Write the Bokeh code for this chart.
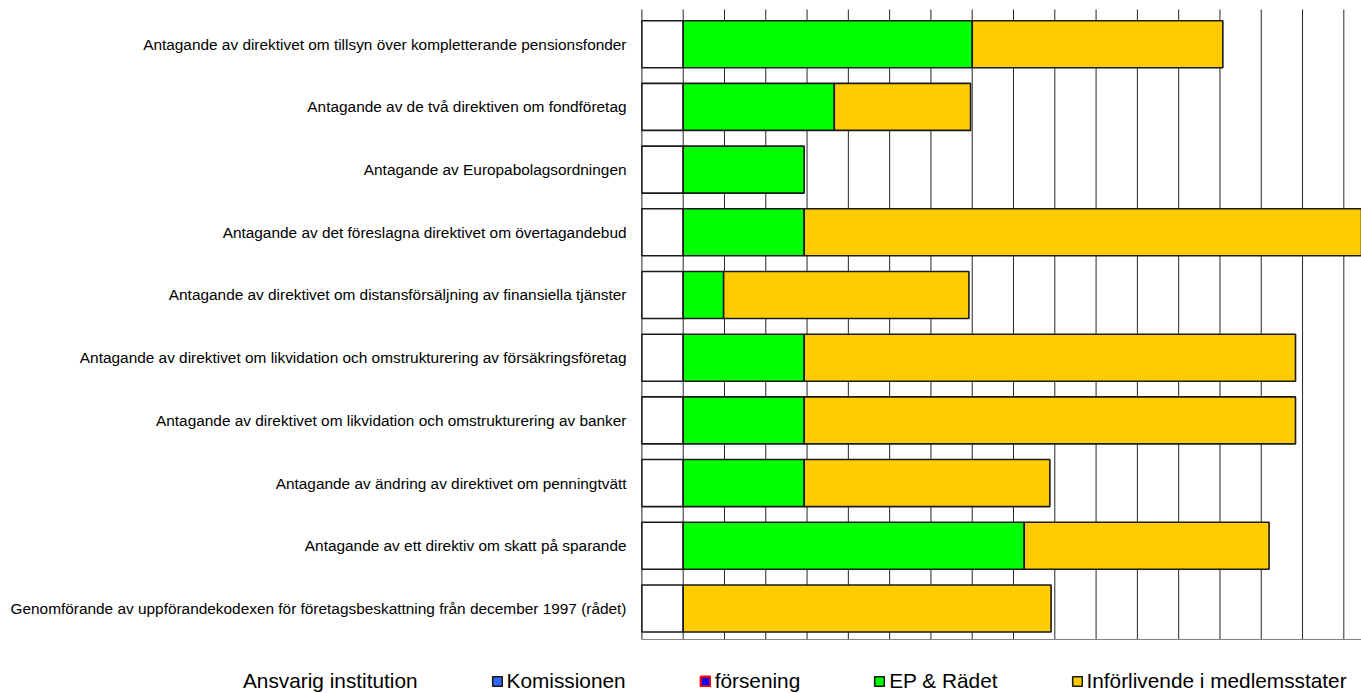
import numpy as np
from bokeh.plotting import figure
from bokeh.models import (ColumnDataSource, Range1d, Legend, LegendItem)
from bokeh.core.properties import value
from bokeh.embed import file_html
from bokeh.resources import INLINE

# ---------------- data ----------------
categories = [
    "Antagande av direktivet om tillsyn över kompletterande pensionsfonder",
    "Antagande av de två direktiven om fondföretag",
    "Antagande av Europabolagsordningen",
    "Antagande av det föreslagna direktivet om övertagandebud",
    "Antagande av direktivet om distansförsäljning av finansiella tjänster",
    "Antagande av direktivet om likvidation och omstrukturering av försäkringsföretag",
    "Antagande av direktivet om likvidation och omstrukturering av banker",
    "Antagande av ändring av direktivet om penningtvätt",
    "Antagande av ett direktiv om skatt på sparande",
    "Genomförande av uppförandekodexen för företagsbeskattning från december 1997 (rådet)",
]
start_offset = [1.0, 1.0, 1.0, 1.0, 1.0, 1.0, 1.0, 1.0, 1.0, 1.0]
komissionen = [0.0, 0.0, 0.0, 0.0, 0.0, 0.0, 0.0, 0.0, 0.0, 0.0]
forsening = [0.0, 0.0, 0.0, 0.0, 0.0, 0.0, 0.0, 0.0, 0.0, 0.0]
ep_radet = [7.0, 3.66, 2.93, 2.93, 0.98, 2.93, 2.93, 2.93, 8.26, 0.0]
inforlivande = [6.07, 3.30, 0.0, 14.5, 5.94, 11.90, 11.90, 5.95, 5.93, 8.91]
grid_ticks = [0, 1, 2, 3, 4, 5, 6, 7, 8, 9, 10, 11, 12, 13, 14, 15, 16, 17]

series_names = ["Ansvarig institution", "Komissionen", "försening",
                "EP & Rädet", "Införlivende i medlemsstater"]
series_values = [start_offset, komissionen, forsening, ep_radet, inforlivande]
fill_colors = ["#FFFFFF", "#3366FF", "#0000FF", "#00FF00", "#FFCC00"]
line_colors = ["#1a1a1a", "#1a1a1a", "#FF0000", "#1a1a1a", "#1a1a1a"]

FONT = "Liberation Sans"
W, H = 1361, 693

# plot area extent in data units
X_MIN, X_MAX = 0.0, 17.43
Y_TOP, Y_BOTTOM = -0.553, 9.494

p = figure(width=W, height=H,
           x_range=Range1d(-15.534, 17.428), y_range=Range1d(10.356, -0.697),
           x_axis_location=None, y_axis_location=None,
           output_backend="svg", toolbar_location=None, min_border=0)
p.outline_line_color = None
p.grid.visible = False

# vertical gridlines
n = len(grid_ticks)
p.segment(x0=grid_ticks, y0=[Y_TOP] * n, x1=grid_ticks, y1=[Y_BOTTOM] * n,
          line_color="#262626", line_width=1)
# bottom border of plot area
p.segment(x0=[X_MIN], y0=[Y_BOTTOM], x1=[X_MAX], y1=[Y_BOTTOM],
          line_color="#808080", line_width=1)

ys = list(range(len(categories)))
cum = [0.0] * len(categories)
renderers = []
has_data = []
for k, (name, vals, fc, lc) in enumerate(zip(series_names, series_values,
                                             fill_colors, line_colors)):
    yy, ll, rr = [], [], []
    for i, v in enumerate(vals):
        if v > 0:
            yy.append(ys[i]); ll.append(cum[i]); rr.append(cum[i] + v)
        cum[i] += v
    src = ColumnDataSource(dict(y=yy, left=ll, right=rr))
    r = p.hbar(y="y", left="left", right="right", height=0.75, source=src,
               fill_color=fc, line_color=lc,
               line_width=2.2 if k == 2 else 1.6)
    renderers.append(r)
    has_data.append(len(yy) > 0)

# category labels
p.text(x=[-0.373] * len(categories), y=ys, text=categories,
       text_font=value(FONT), text_font_size="15.4px",
       text_align="right", text_baseline="middle", text_color="#000000")

# legend (series without any bars get a non-drawn NaN proxy so the key shows)
nan = np.array([np.nan])
dummy = p.hbar(y=nan, left=nan, right=nan, height=1, fill_alpha=0, line_alpha=0)
items = [LegendItem(label=series_names[0], renderers=[dummy])]
for k in range(1, 5):
    r = renderers[k]
    if not has_data[k]:
        r = p.hbar(y=nan, left=nan, right=nan, height=1,
                   fill_color=fill_colors[k], line_color=line_colors[k],
                   line_width=2.2 if k == 2 else 1.6)
    items.append(LegendItem(label=series_names[k], renderers=[r]))

legend = Legend(items=items, orientation="horizontal", location=(227, 0),
                glyph_width=12, glyph_height=12, label_standoff=4, spacing=73,
                padding=0, margin=0, border_line_color=None,
                background_fill_alpha=0,
                label_text_font=FONT, label_text_font_size="20.8px",
                label_text_color="#000000")
p.add_layout(legend)

open("out.html", "w").write(file_html(p, INLINE))
